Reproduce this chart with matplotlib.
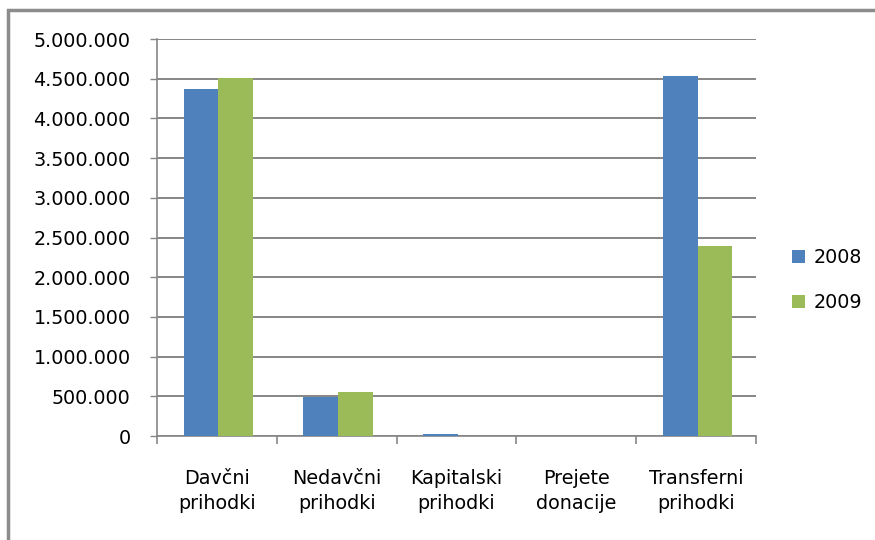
import numpy as np
import matplotlib
matplotlib.use('Agg')
import matplotlib.pyplot as plt
from matplotlib.patches import Rectangle
from matplotlib.ticker import FuncFormatter, MultipleLocator

# Data
categories = ['Davčni\nprihodki', 'Nedavčni\nprihodki', 'Kapitalski\nprihodki',
              'Prejete\ndonacije', 'Transferni\nprihodki']
values_2008 = [4370000, 490000, 25000, 0, 4530000]
values_2009 = [4510000, 555000, 2000, 0, 2390000]
series_labels = ['2008', '2009']

blue = '#4F81BD'
green = '#9BBB59'
grid_gray = '#868686'

plt.rcParams['font.family'] = 'DejaVu Sans'
plt.rcParams['font.size'] = 13.8

fig = plt.figure(figsize=(8.75, 5.4), dpi=100)
ax = fig.add_axes([157 / 875, 1 - 436 / 540, (756 - 157) / 875, (436 - 39) / 540])

x = np.arange(len(categories)) + 0.5
w = 0.29
ax.bar(x - w / 2 + 0.012, values_2008, width=w, color=blue, label=series_labels[0], zorder=3)
ax.bar(x + w / 2 + 0.012, values_2009, width=w, color=green, label=series_labels[1], zorder=3)

ax.set_xlim(0, len(categories))
ax.set_ylim(0, 5000000)

# y axis: ticks every 500.000, dot as thousands separator
ax.yaxis.set_major_locator(MultipleLocator(500000))
ax.yaxis.set_major_formatter(FuncFormatter(lambda v, p: f'{int(v):,}'.replace(',', '.')))
ax.yaxis.grid(True, color=grid_gray, linewidth=1.4, zorder=0)
ax.tick_params(axis='y', length=5, width=1, color=grid_gray, pad=14, labelcolor='#000000')

# x axis: tick marks at group boundaries, labels at centres
ax.set_xticks(np.arange(len(categories) + 1))
ax.set_xticklabels([])
ax.set_xticks(x, minor=True)
ax.set_xticklabels(categories, minor=True, linespacing=1.35)
ax.tick_params(axis='x', which='major', length=6, width=1.2, color=grid_gray)
ax.tick_params(axis='x', which='minor', length=0, pad=24)

for side in ['top', 'right']:
    ax.spines[side].set_visible(False)
for side in ['left', 'bottom']:
    ax.spines[side].set_color(grid_gray)
    ax.spines[side].set_linewidth(1.2)

fig.legend(loc='center left', bbox_to_anchor=(792 / 875, 1 - 280 / 540),
           frameon=False, borderpad=0, borderaxespad=0,
           handlelength=0.7, handleheight=0.7, handletextpad=0.45,
           labelspacing=1.35)

# outer frame of the chart area (left and top edges visible)
fig.patches.append(Rectangle((8 / 875, -0.1), 1.2, 1 - 10 / 540 + 0.1,
                             transform=fig.transFigure, fill=False,
                             edgecolor='#8C8C8C', linewidth=2.5))

fig.savefig('out.png', dpi=100)
